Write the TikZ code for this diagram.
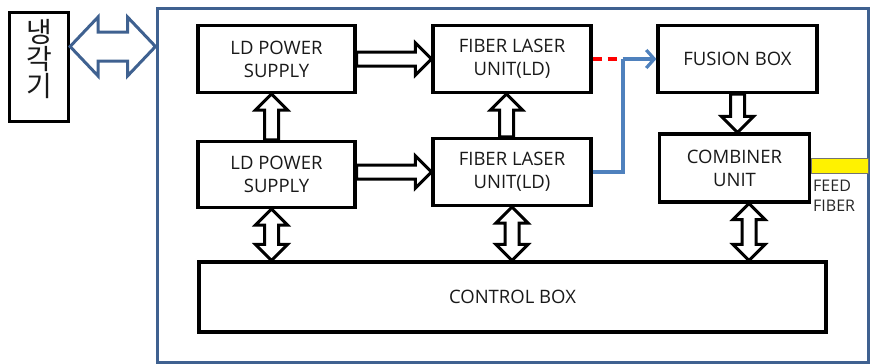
\documentclass[tikz,border=0pt]{standalone}
\usepackage{fontspec}
\setmainfont{Open Sans}
\newfontfamily\korfont{Noto Sans CJK KR}
\usetikzlibrary{calc,arrows.meta}

\definecolor{framec}{HTML}{3F6190}
\definecolor{fiberc}{HTML}{4F81BD}

% arrow sizes for the hollow block arrows
\def\shaftw{7pt}
\def\headw{16pt}
\def\headl{16pt}

% hollow single arrow from #2 to #3
\newcommand{\fatone}[3][]{%
  \draw[fatarrow,#1] ($(#2)!\shaftw!90:(#3)$)
    -- ($(#3)!\headl!(#2)!\shaftw!90:(#3)$) -- ($(#3)!\headl!(#2)!\headw!90:(#3)$)
    -- (#3)
    -- ($(#3)!\headl!(#2)!\headw!-90:(#3)$) -- ($(#3)!\headl!(#2)!\shaftw!-90:(#3)$)
    -- ($(#2)!\shaftw!-90:(#3)$) -- cycle;}

% hollow double arrow between #2 and #3
\newcommand{\fattwo}[3][]{%
  \draw[fatarrow,#1] ($(#2)!\headl!(#3)!\shaftw!90:(#3)$)
    -- ($(#3)!\headl!(#2)!\shaftw!90:(#3)$) -- ($(#3)!\headl!(#2)!\headw!90:(#3)$)
    -- (#3)
    -- ($(#3)!\headl!(#2)!\headw!-90:(#3)$) -- ($(#3)!\headl!(#2)!\shaftw!-90:(#3)$)
    -- ($(#2)!\headl!(#3)!\shaftw!-90:(#3)$) -- ($(#2)!\headl!(#3)!\headw!-90:(#3)$)
    -- (#2)
    -- ($(#2)!\headl!(#3)!\headw!90:(#3)$) -- cycle;}

\tikzset{
  block/.style={draw, line width=3.2pt, inner sep=0pt, align=center,
    text=black!90, font=\fontsize{18.5}{23}\selectfont},
  fatarrow/.style={draw=black, fill=white, line width=3pt, line join=miter},
  bigarrow/.style={draw=framec, line width=3pt},
  fiber/.style={draw=fiberc, line width=3.2pt},
}

\begin{document}
\begin{tikzpicture}[x=1pt,y=-1pt]
\useasboundingbox (0,0) rectangle (870,364);

\node[draw=framec, line width=3pt, minimum width=711pt, minimum height=354pt] (frame) at (512.5,185) {};
\node[block, minimum width=59pt, minimum height=109pt] (cooler) at (39,67) {};
\node[font=\korfont\fontsize{28}{27}\selectfont, text=black!90, align=center] (coolertxt) at (39,59) {냉\\각\\기};

\node[block, minimum width=157pt, minimum height=67pt] (ldA) at (276.5,59) {LD POWER\\SUPPLY};
\node[block, minimum width=157pt, minimum height=66pt] (ldB) at (276.5,174.5) {LD POWER\\SUPPLY};
\node[block, minimum width=158pt, minimum height=67pt] (flA) at (512,59) {FIBER LASER\\UNIT(LD)};
\node[block, minimum width=158pt, minimum height=67pt] (flB) at (512,172) {FIBER LASER\\UNIT(LD)};
\node[block, minimum width=159pt, minimum height=67pt] (fus) at (737.5,59) {FUSION BOX};
\node[block, minimum width=150pt, minimum height=68pt] (comb) at (734.5,168) {COMBINER\\UNIT};
\node[block, minimum width=627pt, minimum height=70pt] (ctrl) at (512.5,297) {CONTROL BOX};

% feed fiber
\draw[fill=yellow, draw=black!55, line width=0.6pt] ([yshift=10pt]comb.east) rectangle ([xshift=-1.5pt]frame.east |- 0,173);
\node[anchor=north west, align=left, inner sep=0pt, text=black!85,
  font=\fontsize{16}{20}\selectfont] (feed) at (813,180) {FEED\\FIBER};

% cooler link
\coordinate (c1) at ([yshift=20.5pt]cooler.east);
\coordinate (c2) at (c1 -| frame.west);
{\def\shaftw{14.5pt}\def\headw{29.5pt}\def\headl{28pt}
 \fattwo[bigarrow]{c1}{c2}}

% block arrows
\coordinate (hb) at (ldB.east |- flB.west);
\fatone{ldA.east}{flA.west}
\fatone{hb}{flB.west}
\coordinate (u1) at ([xshift=-5pt]ldB.north);
\coordinate (u2) at (u1 |- ldA.south);
\fatone{u1}{u2}
\coordinate (u3) at ([xshift=-5.5pt]flB.north);
\coordinate (u4) at (u3 |- flA.south);
\fatone{u3}{u4}
\coordinate (v1) at (fus.south);
\coordinate (v2) at (v1 |- comb.north);
\fatone{v1}{v2}
\coordinate (d1) at ([xshift=-5pt]ldB.south);
\coordinate (d2) at (d1 |- ctrl.north);
\fattwo{d1}{d2}
\coordinate (d3) at (flB.south);
\coordinate (d4) at (d3 |- ctrl.north);
\fattwo{d3}{d4}
\coordinate (d5) at ([xshift=14.5pt]comb.south);
\coordinate (d6) at (d5 |- ctrl.north);
\fattwo{d5}{d6}

% fiber path
\coordinate (jn) at (623,59);
\draw[red, line width=3.2pt, dash pattern=on 9pt off 6pt] (flA.east) -- (jn);
\draw[fiber] (flB.east) -| (jn);
\draw[fiber, -{Straight Barb[length=8pt, width=18pt]}] (jn) -- (fus.west);
\end{tikzpicture}
\end{document}
